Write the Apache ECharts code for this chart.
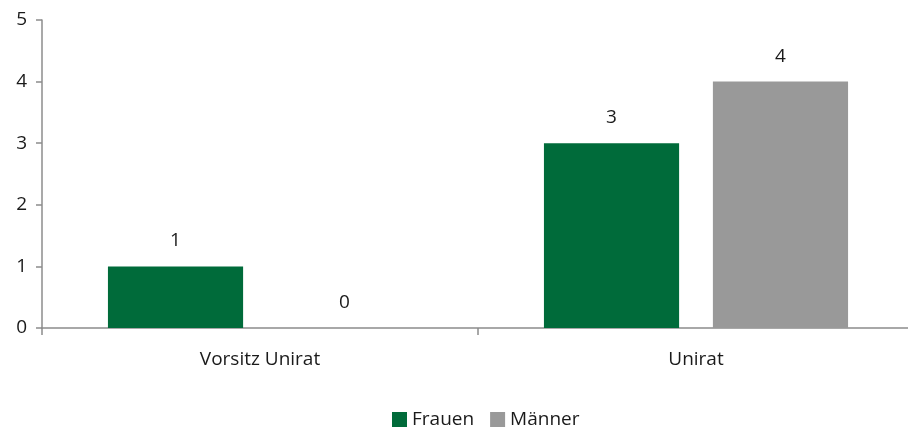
<!DOCTYPE html>
<html>
<head>
<meta charset="utf-8">
<script src="https://cdn.jsdelivr.net/npm/echarts@6/dist/echarts.min.js"></script>
<style>
  html, body { margin: 0; padding: 0; background: #fff; }
  #chart { width: 908px; height: 431px; }
</style>
</head>
<body>
<div id="chart"></div>
<script>
const categories = ["Vorsitz Unirat", "Unirat"];
const frauen = [1, 3];
const maenner = [0, 4];
const yTicks = [0, 1, 2, 3, 4, 5];

const fontFamily = "'Open Sans', 'Noto Sans', sans-serif";
const axisColor = "#8c8c8c";
const textColor = "#1a1a1a";

let chart = echarts.init(document.getElementById("chart"));

let option = {
  animation: false,
  textStyle: { fontFamily: fontFamily },
  grid: {
    left: 42,
    width: 872,
    top: 20,
    bottom: 103,
    outerBoundsMode: "none"
  },
  legend: {
    bottom: -3,
    left: 387,
    itemWidth: 15,
    itemHeight: 15,
    itemGap: 16,
    itemTextGap: 5,
    icon: "rect",
    textStyle: { fontSize: 19, color: textColor, fontFamily: fontFamily },
    data: ["Frauen", "Männer"]
  },
  xAxis: {
    type: "category",
    data: categories,
    axisLine: { lineStyle: { color: axisColor, width: 1.5 } },
    axisTick: { show: true, alignWithLabel: false, length: 7, lineStyle: { color: axisColor, width: 1.5 } },
    axisLabel: { fontSize: 19, color: textColor, margin: 22 }
  },
  yAxis: {
    type: "value",
    min: yTicks[0],
    max: yTicks[yTicks.length - 1],
    interval: 1,
    axisLine: { show: true, lineStyle: { color: axisColor, width: 1.5 } },
    axisTick: { show: true, length: 6, lineStyle: { color: axisColor, width: 1.5 } },
    axisLabel: { fontSize: 19, color: textColor, margin: 15 },
    splitLine: { show: false }
  },
  series: [
    {
      name: "Frauen",
      type: "bar",
      data: frauen,
      barWidth: "31%",
      barGap: "25%",
      itemStyle: { color: "#006b3a" },
      label: { show: true, position: "top", distance: 16, fontSize: 19, color: textColor }
    },
    {
      name: "Männer",
      type: "bar",
      data: maenner,
      barWidth: "31%",
      itemStyle: { color: "#999999" },
      label: { show: true, position: "top", distance: 16, fontSize: 19, color: textColor }
    }
  ]
};

chart.setOption(option, true);
</script>
</body>
</html>
